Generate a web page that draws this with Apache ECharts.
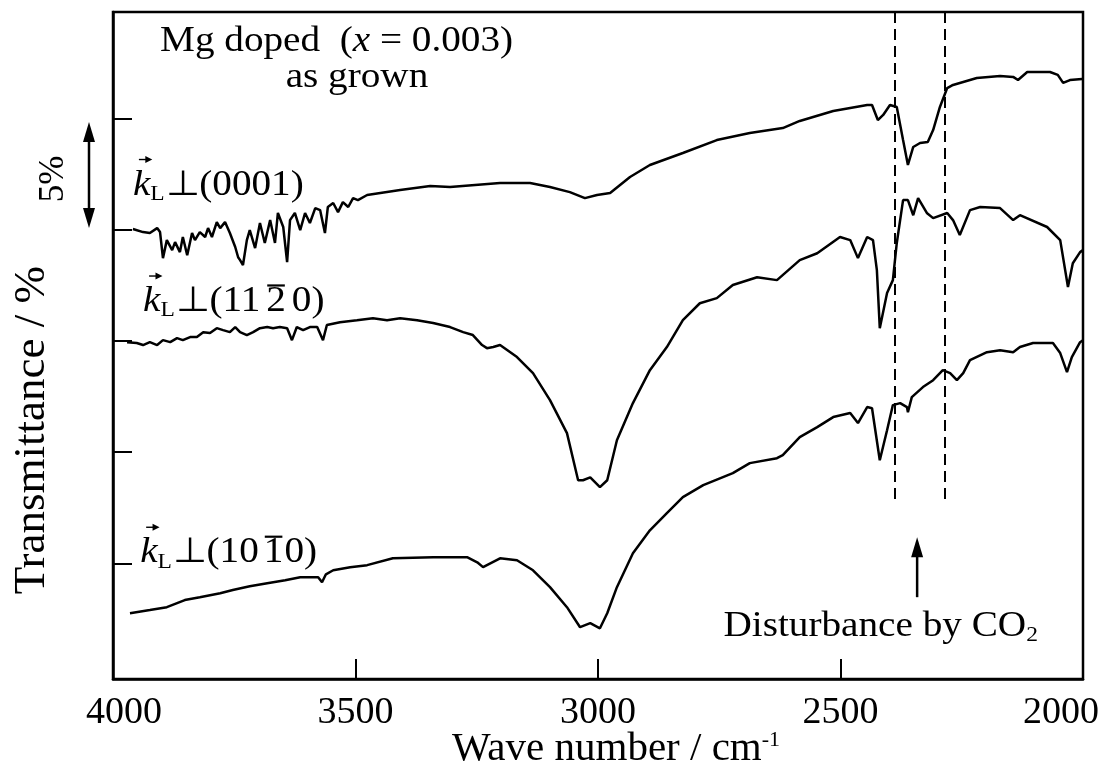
<!DOCTYPE html>
<html>
<head>
<meta charset="utf-8">
<title>Mg doped transmittance</title>
<script src="https://cdn.jsdelivr.net/npm/echarts@6.0.0/dist/echarts.min.js"></script>
<style>
html,body{margin:0;padding:0;background:#ffffff;}
#chart{width:1105px;height:765px;}
</style>
</head>
<body>
<div id="chart"></div>
<script>
// ---- data (wave number in cm^-1, transmittance in %, curves offset) ----
const wn0001 = [3959,3938,3924,3909,3903,3897,3889,3878,3872,3862,3856,3847,3837,3831,3821,3810,3804,3796,3786,3779,3769,3759,3748,3742,3738,3732,3724,3718,3707,3697,3687,3676,3666,3660,3649,3641,3635,3625,3614,3604,3594,3583,3573,3563,3557,3546,3536,3526,3515,3505,3495,3476,3408,3346,3305,3202,3140,3099,3058,3027,3002,2975,2934,2893,2825,2755,2687,2619,2584,2515,2445,2435,2423,2412,2398,2384,2371,2361,2350,2336,2320,2309,2295,2280,2268,2219,2171,2144,2134,2115,2068,2052,2041,2027,2002];
const tr0001 = [20.04,19.90,19.86,20.08,19.90,18.73,19.54,19.09,19.45,19.00,19.68,18.86,19.86,19.54,19.90,19.68,20.08,19.68,20.35,20.08,20.35,19.86,19.23,18.77,18.64,18.42,19.54,19.99,19.18,20.31,19.41,20.44,19.41,20.76,20.13,18.55,20.44,20.76,19.99,20.76,20.31,20.98,20.89,19.86,21.03,21.21,20.80,21.25,21.03,21.43,21.34,21.57,21.79,21.97,21.93,22.11,22.11,21.93,21.70,21.43,21.57,21.66,22.38,22.92,23.46,24.04,24.36,24.58,24.90,25.35,25.62,25.62,24.94,25.17,25.62,25.53,24.04,22.92,23.73,23.91,23.95,24.49,25.53,26.38,26.52,26.83,26.92,26.88,26.74,27.10,27.10,26.97,26.61,26.74,26.79];

const wn1120 = [3971,3951,3938,3924,3909,3897,3882,3868,3856,3841,3827,3814,3800,3786,3773,3759,3748,3738,3724,3711,3697,3682,3670,3656,3641,3631,3621,3608,3594,3579,3567,3559,3532,3497,3464,3435,3408,3373,3340,3305,3278,3258,3239,3229,3216,3202,3167,3134,3099,3064,3041,3031,3016,2996,2981,2961,2928,2893,2858,2825,2790,2755,2722,2672,2631,2584,2548,2501,2480,2464,2445,2433,2425,2419,2404,2392,2384,2371,2361,2350,2340,2322,2309,2280,2268,2254,2233,2212,2171,2144,2130,2074,2047,2031,2021,2006,2000];
const tr1120 = [14.95,14.91,14.82,14.95,14.82,15.04,14.95,15.13,15.04,15.18,15.18,15.40,15.36,15.58,15.49,15.40,15.63,15.40,15.27,15.40,15.58,15.63,15.58,15.63,15.58,15.04,15.63,15.49,15.63,15.63,15.04,15.72,15.85,15.94,16.03,15.94,16.03,15.94,15.81,15.63,15.40,15.27,14.82,14.68,14.73,14.82,14.28,13.56,12.34,10.86,8.74,8.74,8.87,8.43,8.74,10.54,12.21,13.69,14.73,15.94,16.70,16.93,17.52,17.87,17.74,18.64,18.95,19.68,19.54,18.73,19.68,19.54,18.19,15.58,17.16,17.74,19.40,21.34,21.34,20.66,21.43,20.76,20.53,20.76,20.44,19.77,20.89,21.03,20.98,20.44,20.66,20.13,19.54,17.43,18.50,19.00,19.09];

const wn1010 = [3965,3924,3889,3852,3821,3779,3753,3718,3682,3645,3614,3577,3569,3561,3546,3511,3476,3423,3340,3270,3249,3237,3202,3167,3134,3099,3064,3037,3016,2996,2981,2961,2928,2893,2858,2825,2783,2722,2687,2631,2619,2584,2548,2515,2480,2464,2445,2435,2419,2404,2392,2377,2363,2361,2353,2330,2309,2289,2274,2260,2247,2233,2198,2171,2144,2130,2103,2062,2047,2033,2023,2006,2000];
const tr1010 = [2.76,2.90,3.03,3.35,3.48,3.66,3.80,3.97,4.11,4.24,4.38,4.38,4.15,4.51,4.69,4.83,4.92,5.23,5.28,5.28,5.05,4.83,5.23,5.14,4.69,3.93,3.03,2.13,2.31,2.08,2.76,3.93,5.46,6.49,7.26,7.98,8.52,9.06,9.51,9.73,9.87,10.68,11.13,11.58,11.76,11.31,12.03,11.98,9.64,10.99,12.12,12.21,12.03,11.80,12.48,12.93,13.24,13.69,13.56,13.24,13.56,14.14,14.50,14.59,14.50,14.73,14.91,14.91,14.46,13.60,14.28,14.95,15.04];

const yTickValues = [5, 10, 15, 20, 25];
const co2DashWavenumbers = [2388, 2285];
const co2DashBottoms = [7.84, 7.63];
const co2ArrowWavenumber = 2342;
const co2ArrowRange = [3.48, 6.18];
const scaleBarRange = [20.08, 24.85];

const FONT = '"Liberation Serif","Times New Roman",serif';
const pairs = (w, t) => w.map((x, i) => [x, t[i]]);
const curveStyle = { color: '#000', width: 2.5 };

const chart = echarts.init(document.getElementById('chart'), null, { renderer: 'canvas' });

const option = {
  animation: false,
  backgroundColor: '#fff',
  grid: { left: 113, right: 22, top: 12, bottom: 86, outerBoundsMode: 'none', containLabel: false,
          show: true, borderColor: '#000', borderWidth: 2.5, backgroundColor: 'transparent' },
  xAxis: {
    type: 'value', min: 2000, max: 4000, interval: 500, inverse: true,
    axisLine: { show: true, onZero: false, lineStyle: { color: '#000', width: 2.5 } },
    axisTick: { show: true, inside: true, length: 20, lineStyle: { color: '#000', width: 2 } },
    axisLabel: {
      color: '#000', fontFamily: FONT, fontSize: 38, margin: 15,
      formatter: v => v === 2000 ? '{r|2000}' : v === 4000 ? '{l|4000}' : String(v),
      rich: {
        r: { fontFamily: FONT, fontSize: 38, color: '#000', padding: [0, 44, 0, 0] },
        l: { fontFamily: FONT, fontSize: 38, color: '#000', padding: [0, 0, 0, 22] }
      }
    },
    splitLine: { show: false },
    name: '{a|Wave number / cm}{b|-1}', nameLocation: 'middle', nameGap: 50, nameMoveOverlap: false,
    nameTextStyle: {
      padding: [0, 0, 0, 36],
      rich: {
        a: { fontFamily: FONT, fontSize: 41, color: '#000' },
        b: { fontFamily: FONT, fontSize: 22, color: '#000', verticalAlign: 'top' }
      }
    }
  },
  yAxis: {
    type: 'value', min: -0.2, max: 29.8,
    axisLine: { show: true, onZero: false, lineStyle: { color: '#000', width: 2.5 } },
    axisTick: { show: true, inside: true, length: 19, customValues: yTickValues, lineStyle: { color: '#000', width: 2 } },
    axisLabel: { show: false },
    splitLine: { show: false }
  },
  series: [
    {
      type: 'line', name: 'k⊥(0001)', data: pairs(wn0001, tr0001), symbol: 'none', lineStyle: curveStyle, silent: true,
      markLine: {
        silent: true, symbol: ['none', 'none'], label: { show: false },
        lineStyle: { type: [11, 6], color: '#000', width: 2 },
        data: co2DashWavenumbers.map((w, i) => [{ coord: [w, 29.8] }, { coord: [w, co2DashBottoms[i]] }])
      }
    },
    { type: 'line', name: 'k⊥(11-20)', data: pairs(wn1120, tr1120), symbol: 'none', lineStyle: curveStyle, silent: true },
    { type: 'line', name: 'k⊥(10-10)', data: pairs(wn1010, tr1010), symbol: 'none', lineStyle: curveStyle, silent: true }
  ]
};
chart.setOption(option);

// ---- annotations ----
const P = (w, v) => chart.convertToPixel({ xAxisIndex: 0, yAxisIndex: 0 }, [w, v]);
const PY = v => chart.convertToPixel({ yAxisIndex: 0 }, v);
const ctx = document.createElement('canvas').getContext('2d');
const fnt = (size, italic) => (italic ? 'italic ' : '') + size + 'px ' + FONT;
const tw = (t, f) => { ctx.font = f; return ctx.measureText(t).width; };
const SX = 1.12;   // reference type is slightly wide
const BASE = 35;

function row(x, y, pieces, align) {
  const total = pieces.reduce((s, p) => s + tw(p.t, fnt(p.size || BASE, p.italic)) * SX + (p.gap || 0), 0);
  let cx = align === 'right' ? x - total : align === 'center' ? x - total / 2 : x;
  const els = [];
  pieces.forEach(p => {
    const size = p.size || BASE;
    const f = fnt(size, p.italic);
    const w = tw(p.t, f) * SX;
    els.push({ type: 'text', x: cx, y: y + (p.dy || 0), scaleX: SX, silent: true,
      style: { text: p.t, font: f, fill: '#000', align: 'left', verticalAlign: 'middle', textAlign: 'left', textVerticalAlign: 'middle' } });
    if (p.over) {
      const oy = y - size * 0.47;
      els.push({ type: 'line', silent: true, shape: { x1: cx + 1, y1: oy, x2: cx + w - 1, y2: oy }, style: { stroke: '#000', lineWidth: 2.2 } });
    }
    if (p.vec) {
      const ay = y - size * 0.74, a1 = cx + 6, a2 = cx + w + 1;
      els.push({ type: 'line', silent: true, shape: { x1: a1, y1: ay, x2: a2 - 4, y2: ay }, style: { stroke: '#000', lineWidth: 1.4 } });
      els.push({ type: 'polygon', silent: true, shape: { points: [[a2 + 1, ay], [a2 - 6, ay - 3.5], [a2 - 6, ay + 3.5]] }, style: { fill: '#000' } });
    }
    cx += w + (p.gap || 0);
  });
  return els;
}

const kHead = [{ t: 'k', italic: true, vec: true }, { t: 'L', size: 21, dy: 9, gap: 1 }];
let els = [];
let a;
a = P(3959, 22.0);  els = els.concat(row(a[0], a[1], kHead.concat([{ t: '⊥(0001)' }])));
a = P(3938, 16.76); els = els.concat(row(a[0], a[1], kHead.concat([{ t: '⊥(11', gap: 6 }, { t: '2', over: true, gap: 6 }, { t: '0)' }])));
a = P(3944, 5.46);  els = els.concat(row(a[0], a[1], kHead.concat([{ t: '⊥(10', gap: 5 }, { t: '1', over: true, gap: 1 }, { t: '0)' }])));
a = P(3903, 28.45); els = els.concat(row(a[0], a[1], [{ t: 'Mg doped  (' }, { t: 'x', italic: true }, { t: ' = 0.003)' }]));
a = P(3497, 26.83); els = els.concat(row(a[0], a[1], [{ t: 'as grown' }], 'center'));
a = P(2093, 2.15);  els = els.concat(row(a[0], a[1], [{ t: 'Disturbance by CO' }, { t: '2', size: 21, dy: 9 }], 'right'));

// CO2 arrow
const ab = P(co2ArrowWavenumber, co2ArrowRange[0]), at = P(co2ArrowWavenumber, co2ArrowRange[1]);
els.push({ type: 'line', silent: true, shape: { x1: ab[0], y1: ab[1], x2: at[0], y2: at[1] + 16 }, style: { stroke: '#000', lineWidth: 2.5 } });
els.push({ type: 'polygon', silent: true, shape: { points: [[at[0], at[1]], [at[0] - 6, at[1] + 20], [at[0] + 6, at[1] + 20]] }, style: { fill: '#000' } });

// 5% scale bar
const sx = 89, s1 = PY(scaleBarRange[1]), s2 = PY(scaleBarRange[0]);
els.push({ type: 'line', silent: true, shape: { x1: sx, y1: s1 + 16, x2: sx, y2: s2 - 16 }, style: { stroke: '#000', lineWidth: 2.5 } });
els.push({ type: 'polygon', silent: true, shape: { points: [[sx, s1], [sx - 6, s1 + 20], [sx + 6, s1 + 20]] }, style: { fill: '#000' } });
els.push({ type: 'polygon', silent: true, shape: { points: [[sx, s2], [sx - 6, s2 - 20], [sx + 6, s2 - 20]] }, style: { fill: '#000' } });
els.push({ type: 'text', x: 54, y: PY(22.29), rotation: Math.PI / 2, silent: true,
  style: { text: '5%', font: fnt(35), fill: '#000', align: 'center', verticalAlign: 'middle', textAlign: 'center', textVerticalAlign: 'middle' } });

// y axis title
els.push({ type: 'text', x: 32, y: PY(10.99), rotation: Math.PI / 2, silent: true,
  style: { text: 'Transmittance / %', font: fnt(45), fill: '#000', align: 'center', verticalAlign: 'middle', textAlign: 'center', textVerticalAlign: 'middle' } });

chart.setOption({ graphic: { elements: els } });
</script>
</body>
</html>
